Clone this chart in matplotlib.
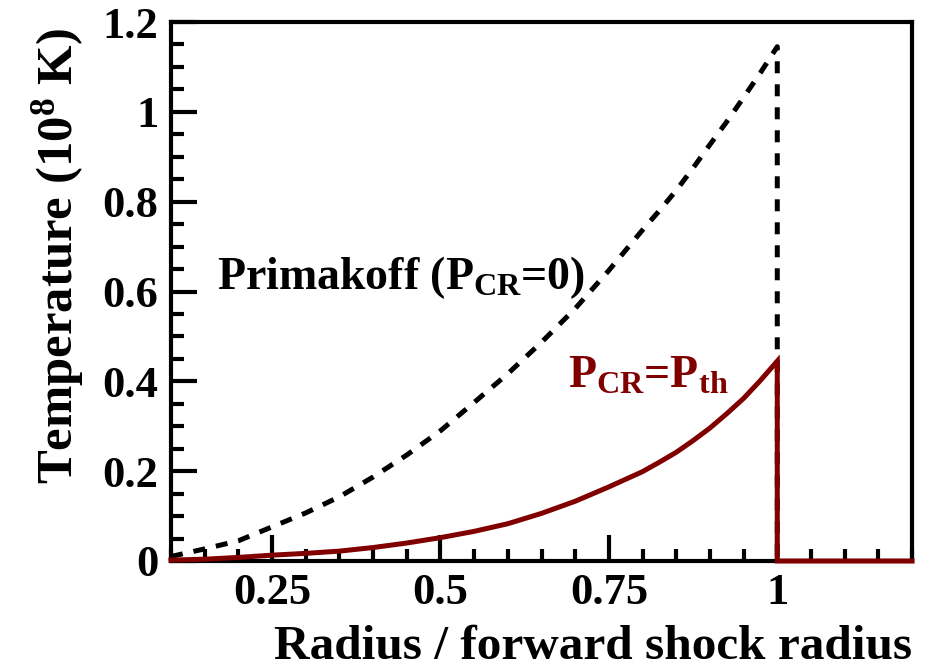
import matplotlib
matplotlib.use("Agg")
import matplotlib.pyplot as plt
from matplotlib.ticker import MultipleLocator, FixedLocator

plt.rcParams['font.family'] = ['Liberation Serif', 'DejaVu Serif']
plt.rcParams['font.weight'] = 'bold'
plt.rcParams['axes.labelweight'] = 'bold'
plt.rcParams['mathtext.fontset'] = 'custom'
plt.rcParams['mathtext.rm'] = 'Liberation Serif:bold'
plt.rcParams['mathtext.it'] = 'Liberation Serif:bold'
plt.rcParams['mathtext.bf'] = 'Liberation Serif:bold'

# Radial profiles (radius in units of the forward shock radius)
radius = [0.10, 0.15, 0.20, 0.25, 0.30, 0.35, 0.40, 0.45, 0.50, 0.55,
          0.60, 0.65, 0.70, 0.75, 0.80, 0.825, 0.85, 0.875, 0.90,
          0.925, 0.95, 0.975, 1.00]
temp_primakoff = [0.010, 0.027, 0.045, 0.076, 0.107, 0.143, 0.187, 0.236, 0.290, 0.353,
                  0.417, 0.487, 0.562, 0.647, 0.737, 0.780, 0.825, 0.875, 0.927,
                  0.978, 1.032, 1.087, 1.145]
temp_cr = [0.002, 0.004, 0.008, 0.013, 0.017, 0.022, 0.030, 0.040, 0.052, 0.066,
           0.083, 0.106, 0.133, 0.165, 0.199, 0.220, 0.242, 0.268, 0.296,
           0.328, 0.362, 0.402, 0.445]

# Beyond the shock the temperature drops to zero
shock_radius = 1.0
outer_radius = 1.2

x_major = [0.25, 0.5, 0.75, 1.0]
x_labels = ["0.25", "0.5", "0.75", "1"]
y_major = [0, 0.2, 0.4, 0.6, 0.8, 1.0, 1.2]
y_labels = ["0", "0.2", "0.4", "0.6", "0.8", "1", "1.2"]

dark_red = "#800000"

fig = plt.figure(figsize=(9.29, 6.72), dpi=100)
ax = fig.add_axes([171 / 929, 111 / 672, 741 / 929, 539 / 672])

# Primakoff solution (dashed), with the drop at the shock
ax.plot(radius + [shock_radius], temp_primakoff + [0.0], color="black", lw=3.6,
        linestyle=(0, (2.4, 2.2)), dash_capstyle="butt", zorder=2)

# Cosmic-ray pressure equal to thermal pressure (solid)
ax.plot(radius + [shock_radius, outer_radius], temp_cr + [0.0, 0.0],
        color=dark_red, lw=3.6, solid_joinstyle="miter", zorder=3, clip_on=False)

ax.set_xlim(0.1, 1.2)
ax.set_ylim(0, 1.2)

ax.xaxis.set_major_locator(FixedLocator(x_major))
ax.set_xticklabels(x_labels)
ax.xaxis.set_minor_locator(MultipleLocator(0.05))
ax.yaxis.set_major_locator(FixedLocator(y_major))
ax.set_yticklabels(y_labels)
ax.yaxis.set_minor_locator(MultipleLocator(0.05))

ax.tick_params(which="both", direction="in", width=3, top=False, right=False,
               labelsize=32)
ax.tick_params(which="major", length=19, pad=9)
ax.tick_params(which="minor", length=9)
for s in ax.spines.values():
    s.set_linewidth(3)

ax.set_xlabel("Radius / forward shock radius", fontsize=35.5, loc="right",
              labelpad=8)
ax.set_ylabel(r"Temperature (10$^{8}$ K)", fontsize=36.5, loc="top")
ax.yaxis.set_label_coords(-0.115, 0.988)

ax.text(0.168, 0.63, r"Primakoff (P$_{\mathrm{CR}}$=0)", fontsize=33,
        color="black", va="center", ha="left")
ax.text(0.69, 0.41, r"P$_{\mathrm{CR}}$=P$_{\mathrm{th}}$", fontsize=33,
        color=dark_red, va="center", ha="left")

fig.savefig("out.png", dpi=100)
